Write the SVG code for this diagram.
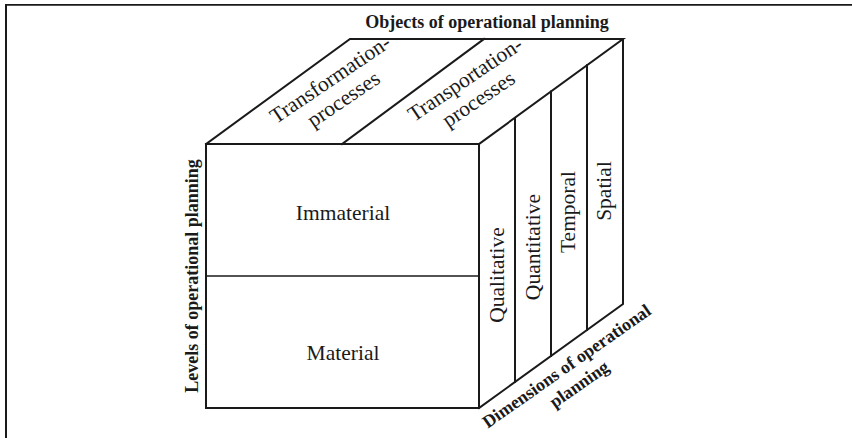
<svg xmlns="http://www.w3.org/2000/svg" width="852" height="438" viewBox="0 0 852 438">
  <style>
    .edge { stroke: #1a1a1a; stroke-width: 2; fill: none; stroke-linecap: square; }
    .thin { stroke: #1a1a1a; stroke-width: 1.5; fill: none; }
    .lbl { font-family: "Liberation Serif", "Times New Roman", serif; font-size: 21.5px; fill: #1a1a1a; text-anchor: middle; }
    .axis { font-family: "Liberation Serif", "Times New Roman", serif; font-size: 18px; font-weight: bold; fill: #1a1a1a; text-anchor: middle; }
  </style>
  <rect width="852" height="438" fill="#ffffff"/>

  <!-- frame: top and left rules -->
  <g id="frame">
    <line x1="5" y1="4.8" x2="852" y2="4.8" stroke="#1a1a1a" stroke-width="1.8"/>
    <line x1="6" y1="4" x2="6" y2="438" stroke="#1a1a1a" stroke-width="2"/>
  </g>

  <!-- cube edges -->
  <g id="connectors">
    <!-- top face -->
    <path class="edge" d="M206,144 L350,39 L623,39 L479,144"/>
    <line class="edge" x1="342" y1="144" x2="484" y2="39"/>
    <!-- right face -->
    <path class="edge" d="M623,39 L623,304 L479,408"/>
    <line class="edge" x1="515" y1="118" x2="515" y2="382"/>
    <line class="edge" x1="551" y1="91.5" x2="551" y2="356"/>
    <line class="edge" x1="587" y1="65.3" x2="587" y2="330"/>
  </g>

  <!-- front face: levels -->
  <g id="front-face">
    <rect class="edge" x="206" y="144" width="273" height="264"/>
    <line class="thin" x1="206" y1="276" x2="479" y2="276"/>
  </g>
  <g id="immaterial">
    <text class="lbl" x="343" y="220">Immaterial</text>
  </g>
  <g id="material">
    <text class="lbl" x="343" y="360">Material</text>
  </g>

  <!-- top face: objects -->
  <g id="transformation">
    <g transform="translate(334,85) rotate(-34)">
      <text class="lbl" x="0" y="0">Transformation-</text>
      <text class="lbl" x="0" y="24">processes</text>
    </g>
  </g>
  <g id="transportation">
    <g transform="translate(469,85) rotate(-34)">
      <text class="lbl" x="0" y="0">Transportation-</text>
      <text class="lbl" x="0" y="24">processes</text>
    </g>
  </g>

  <!-- right face: dimensions -->
  <g id="qualitative">
    <text class="lbl" transform="translate(504,275) rotate(-90)">Qualitative</text>
  </g>
  <g id="quantitative">
    <text class="lbl" transform="translate(540,247) rotate(-90)">Quantitative</text>
  </g>
  <g id="temporal">
    <text class="lbl" transform="translate(575,212) rotate(-90)">Temporal</text>
  </g>
  <g id="spatial">
    <text class="lbl" transform="translate(611,191) rotate(-90)">Spatial</text>
  </g>

  <!-- axis titles -->
  <g id="objects-title">
    <text class="axis" x="487" y="28">Objects of operational planning</text>
  </g>
  <g id="levels-title">
    <text class="axis" transform="translate(198,276) rotate(-90)">Levels of operational planning</text>
  </g>
  <g id="dimensions-title">
    <g transform="translate(570,371) rotate(-35)">
      <text class="axis" x="0" y="0">Dimensions of operational</text>
      <text class="axis" x="0" y="22">planning</text>
    </g>
  </g>
</svg>
